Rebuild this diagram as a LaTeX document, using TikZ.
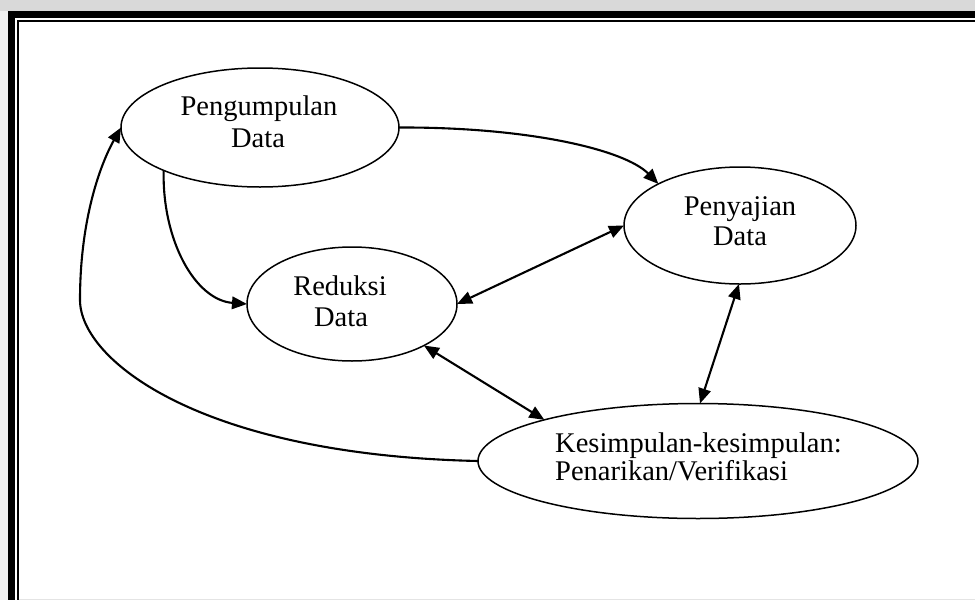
\documentclass[tikz,border=0pt]{standalone}
\usepackage{fontspec}
\setmainfont{Liberation Serif}
\usetikzlibrary{arrows.meta,shapes.geometric}
\definecolor{topgray}{HTML}{D9D9D9}
\definecolor{leftgray}{HTML}{F1F1F1}
\definecolor{botgray}{HTML}{E4E4E4}
\tikzset{
  oval/.style={ellipse, draw, line width=1.5pt, inner sep=0pt, outer sep=0pt},
  lbl/.style={font=\fontsize{28.5}{30}\selectfont, inner sep=0pt, anchor=base},
  conn/.style={line width=2.1pt, line join=round},
  tip/.style={-{Triangle[length=15pt,width=12.5pt]}},
  dtip/.style={{Triangle[length=15pt,width=12.5pt]}-{Triangle[length=15pt,width=12.5pt]}}
}
\begin{document}
\begin{tikzpicture}[x=1pt,y=-1pt]
\useasboundingbox (0,0) rectangle (975,600);
% background and frame
\fill[white] (0,0) rectangle (975,600);
\fill[topgray] (0,0) rectangle (975,11);
\fill[leftgray] (0,11) rectangle (8,600);
\fill[black] (8,11) rectangle (975,18);
\fill[black] (8,11) rectangle (15,600);
\fill[black] (17,20.3) rectangle (975,21.8);
\fill[black] (17,20.3) rectangle (18.8,600);
\draw[botgray, line width=1pt] (19,599.5) -- (975,599.5);
% ellipses
\node[oval, minimum width=278pt, minimum height=119pt] (pd) at (260,127.5) {};
\node[oval, minimum width=232pt, minimum height=117pt] (pj) at (740,225.5) {};
\node[oval, minimum width=210pt, minimum height=114pt] (rd) at (352,304) {};
\node[oval, minimum width=440pt, minimum height=115pt] (ks) at (698,461) {};
% texts
\node[lbl] (pd1) at (259,115) {Pengumpulan};
\node[lbl] (pd2) at (258,147) {Data};
\node[lbl] (pj1) at (740,215) {Penyajian};
\node[lbl] (pj2) at (740,245) {Data};
\node[lbl] (rd1) at (340,295) {Reduksi};
\node[lbl] (rd2) at (341,326) {Data};
\node[lbl, anchor=base west] (ks1) at (555,452) {Kesimpulan-kesimpulan:};
\node[lbl, anchor=base west] (ks2) at (555,480) {Penarikan/Verifikasi};
% connectors
\coordinate (lp) at (80,300);
\draw[conn, tip] (pd.0) .. controls (530,127) and (625,150) .. (pj.153);
\draw[conn, tip] (pd.204) .. controls (162,240) and (195,300) .. (rd.180);
\draw[conn, tip] (ks.180) .. controls (200,455) and (80,360) .. (lp)
   .. controls (80,220) and (100,165) .. (pd.180);
\draw[conn, dtip] (rd.0) -- (pj.180);
\draw[conn, dtip] (rd.-30) -- (ks.165);
\draw[conn, dtip] (pj.-91) -- (ks.88);
\end{tikzpicture}
\end{document}
